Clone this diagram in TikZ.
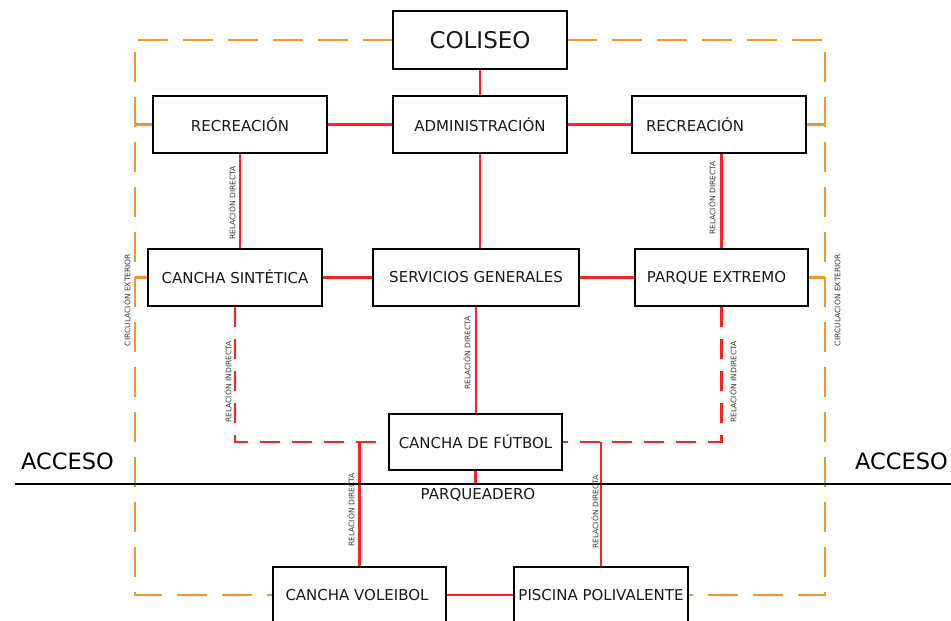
\documentclass[tikz,border=0pt]{standalone}
\usepackage{fontspec}
\setmainfont{DejaVu Sans}
\definecolor{rl}{RGB}{255,32,32}
\definecolor{orl}{RGB}{247,150,40}
\definecolor{txt}{RGB}{25,25,25}
\begin{document}
\begin{tikzpicture}[x=1pt,y=-1pt,
  box/.style={draw=black,line width=2.6pt,fill=white,inner sep=0pt,text=txt,
     font=\fontsize{15}{18}\selectfont},
  rel/.style={draw=rl,line width=2.2pt},
  reldash/.style={draw=rl,line width=2.2pt,dash pattern=on 20pt off 12pt},
  circ/.style={draw=orl,line width=2.2pt,dash pattern=on 30pt off 15pt},
  circtick/.style={draw=orl,line width=2.2pt},
  small/.style={rotate=90,text=txt!85,inner sep=0pt,font=\fontsize{7.6}{9}\selectfont},
  big/.style={text=black,inner sep=0pt,font=\fontsize{22.5}{26}\selectfont}]
\clip (0,0) rectangle (951,621);
\fill[white] (0,0) rectangle (951,621);

% coordinates
\coordinate (cBL) at (135,595);
\coordinate (cBR) at (825,595);
\coordinate (roadL) at (15,484);
\coordinate (roadR) at (951,484);

% orange circulation (drawn first)
\draw[circ] (393,40) -| (cBL) -- (273,595);
\draw[circ] (567,40) -| (cBR) -- (688,595);

% boxes
\node[box,minimum width=174pt,minimum height=58pt,font=\fontsize{23}{27}\selectfont] (coliseo) at (480,40) {COLISEO};
\node[box,minimum width=174pt,minimum height=57pt] (recL) at (240,124.5) {RECREACIÓN};
\node[box,minimum width=174pt,minimum height=57pt] (admin) at (480,124.5) {ADMINISTRACIÓN};
\node[box,text width=146pt,inner xsep=14pt,align=left,minimum height=57pt] (recR) at (719,124.5) {RECREACIÓN};
\node[box,minimum width=174pt,minimum height=57pt] (sint) at (235,277.5) {\raisebox{2pt}{CANCHA SINTÉTICA}};
\node[box,minimum width=206pt,minimum height=57pt] (serv) at (476,277.5) {SERVICIOS GENERALES};
\node[box,minimum width=173pt,minimum height=57pt] (parque) at (721.5,277.5) {\hspace*{-10pt}PARQUE EXTREMO};
\node[box,minimum width=173pt,minimum height=56pt] (futbol) at (475.5,442) {CANCHA DE FÚTBOL};
\node[box,minimum width=173pt,minimum height=56pt] (vole) at (359.5,595) {\hspace*{-5pt}CANCHA VOLEIBOL};
\node[box,minimum width=174pt,minimum height=56pt] (pisc) at (601,595) {PISCINA POLIVALENTE};

% orange ticks
\draw[circtick] (recL.west) -- (recL.west -| cBL);
\draw[circtick] (sint.west) -- (sint.west -| cBL);
\draw[circtick] (recR.east) -- (recR.east -| cBR);
\draw[circtick] (parque.east) -- (parque.east -| cBR);

% red relations
\draw[rel] (coliseo.south) -- (admin.north);
\draw[rel] (recL.east) -- (admin.west);
\draw[rel] (admin.east) -- (recR.west);
\draw[rel] (admin.south) -- (admin.south |- serv.north);
\draw[rel] (recL.south) -- (recL.south |- sint.north);
\draw[rel] (parque.north) -- (parque.north |- recR.south);
\draw[rel] (sint.east) -- (serv.west);
\draw[rel] (serv.east) -- (parque.west);
\draw[rel] (serv.south) -- (serv.south |- futbol.north);
\draw[reldash] (sint.south) |- (futbol.west);
\draw[reldash] (parque.south) |- (futbol.east);
\draw[rel] (vole.north) -- (vole.north |- futbol.west);
\draw[rel] (pisc.north) -- (pisc.north |- futbol.east);
\draw[rel] (vole.east) -- (pisc.west);
\draw[rel] (futbol.south) -- (futbol.south |- roadL);

% access road
\draw[black,line width=2.6pt] (roadL) -- (roadR);
\node[big] (accL) at (67.5,461) {ACCESO};
\node[big] (accR) at (901.5,461) {ACCESO};
\node[inner sep=0pt,text=txt,font=\fontsize{15}{18}\selectfont] (parq) at (478,495) {PARQUEADERO};

% small labels
\node[small] (c1) at (127,300) {CIRCULACIÓN EXTERIOR};
\node[small] (c2) at (837,300) {CIRCULACIÓN EXTERIOR};
\node[small] (d1) at (232,203) {RELACIÓN DIRECTA};
\node[small] (d2) at (712,198) {RELACIÓN DIRECTA};
\node[small] (d3) at (467,353) {RELACIÓN DIRECTA};
\node[small] (d4) at (351,510) {RELACIÓN DIRECTA};
\node[small] (d5) at (595,512) {RELACIÓN DIRECTA};
\node[small] (i1) at (228,382) {RELACIÓN INDIRECTA};
\node[small] (i2) at (733,382) {RELACIÓN INDIRECTA};
\end{tikzpicture}
\end{document}
